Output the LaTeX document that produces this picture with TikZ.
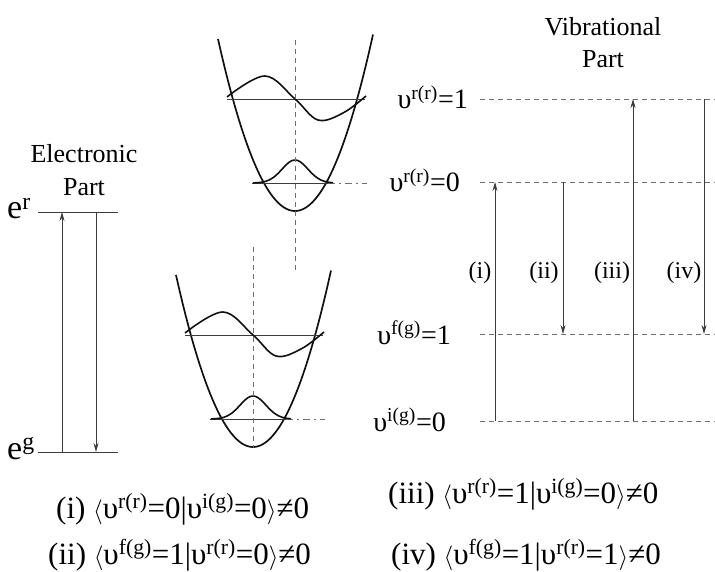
\documentclass[tikz,border=0pt]{standalone}
\usepackage{fontspec}
\setmainfont{Liberation Serif}
\usetikzlibrary{arrows.meta}
\definecolor{ink}{HTML}{111111}
\definecolor{inkgray}{HTML}{3C3C3C}
\definecolor{dashgray}{HTML}{707070}
\newcommand{\sps}[1]{\textsuperscript{#1}}
\newcommand{\lvfont}{\fontsize{28}{32}\selectfont}
\newcommand{\eqfont}{\fontsize{31}{35}\selectfont}
\tikzset{
  well/.style={draw=ink,line width=1.7pt},
  wave/.style={draw=ink,line width=1.6pt},
  level/.style={draw=inkgray,line width=0.7pt},
  vlevel/.style={draw=dashgray,line width=0.7pt,dash pattern=on 5pt off 4pt},
  axisline/.style={draw=dashgray,line width=0.7pt,dash pattern=on 5pt off 4pt},
  tailline/.style={draw=dashgray,line width=0.7pt,dash pattern=on 7pt off 4pt on 2pt off 4pt},
  uparr/.style={-{Stealth[length=9pt,width=5pt]},draw=inkgray,line width=0.8pt},
  title/.style={font=\fontsize{26}{30}\selectfont,anchor=base,inner sep=0pt},
  lvlabel/.style={font=\lvfont,anchor=base east,inner sep=0pt},
  roman/.style={font=\fontsize{24}{28}\selectfont,inner sep=0pt},
  elabel/.style={font=\fontsize{34}{36}\selectfont,anchor=base west,inner sep=0pt},
  eqn/.style={font=\eqfont,anchor=base west,inner sep=0pt}
}
\begin{document}
\begin{tikzpicture}[x=1pt,y=-1pt]
  \path[use as bounding box] (0,0) rectangle (715,572);

  % electronic part
  \node[title] (eltitle) at (84,163) {Electronic};
  \node[title] (elpart) at (84,196) {Part};
  \coordinate (er) at (38,212);
  \coordinate (eg) at (38,452);
  \coordinate (erend) at (118,212);
  \coordinate (egend) at (118,452);
  \coordinate (xup) at (62,0);
  \coordinate (xdn) at (96,0);
  \node[elabel] (elr) at (7,219) {e\sps{r}};
  \node[elabel] (elg) at (7,459) {e\sps{g}};
  \draw[level] (er) -- (erend);
  \draw[level] (eg) -- (egend);
  \draw[uparr] (xup |- eg) -- (xup |- er);
  \draw[uparr] (xdn |- er) -- (xdn |- eg);

  % the two wells
  \foreach \cx/\cy in {295/211,253/447}{
    \begin{scope}[shift={(\cx,\cy)}]
      \draw[well] plot[domain=-77:78,samples=60,smooth] (\x,{-0.029*\x*\x});
      \draw[level] (-68,-112) -- (70,-112);
      \draw[wave] plot[smooth,tension=0.6] coordinates
        {(-68,-114) (-30,-135) (0,-112) (23,-91) (48,-98) (71,-115)};
      \draw[level] (-43,-28) -- (33,-28);
      \draw[tailline] (33,-28) -- (72,-28);
      \draw[wave] plot[domain=-42:38,samples=40,smooth]
        (\x,{-28-23*exp(-\x*\x/330)});
    \end{scope}
  }
  \draw[axisline] (295,40) -- (295,273);
  \draw[axisline] (253,247) -- (253,448);

  % vibrational part
  \node[title] (vbtitle) at (603,36) {Vibrational};
  \node[title] (vbpart) at (603,68) {Part};
  \coordinate (lvR1) at (480,99);
  \coordinate (lvR0) at (480,182);
  \coordinate (lvF1) at (480,334);
  \coordinate (lvI0) at (480,421);
  \coordinate (rim) at (715,0);
  \foreach \lv in {lvR1,lvR0,lvF1,lvI0}
    \draw[vlevel] (\lv) -- (\lv -| rim);
  \node[lvlabel] (labR1) at (468,109) {υ\sps{r(r)}=1};
  \node[lvlabel] (labR0) at (460,192) {υ\sps{r(r)}=0};
  \node[lvlabel] (labF1) at (451,344) {υ\sps{f(g)}=1};
  \node[lvlabel] (labI0) at (446,431) {υ\sps{i(g)}=0};
  \coordinate (xi) at (495,0);
  \coordinate (xii) at (563,0);
  \coordinate (xiii) at (633,0);
  \coordinate (xiv) at (704,0);
  \draw[uparr] (xi |- lvI0) -- (xi |- lvR0);
  \draw[uparr] (xii |- lvR0) -- (xii |- lvF1);
  \draw[uparr] (xiii |- lvI0) -- (xiii |- lvR1);
  \draw[uparr] (xiv |- lvR1) -- (xiv |- lvF1);
  \node[roman] (ri) at (480,273) {(i)};
  \node[roman] (rii) at (544,273) {(ii)};
  \node[roman] (riii) at (612,273) {(iii)};
  \node[roman] (riv) at (684,273) {(iv)};

  % overlap integrals
  \node[eqn] (eqi) at (56,518)
    {(i) \ensuremath{\langle}υ\sps{r(r)}=0|υ\sps{i(g)}=0\ensuremath{\rangle}≠0};
  \node[eqn] (eqii) at (48,564)
    {(ii) \ensuremath{\langle}υ\sps{f(g)}=1|υ\sps{r(r)}=0\ensuremath{\rangle}≠0};
  \node[eqn] (eqiii) at (388,503)
    {(iii) \ensuremath{\langle}υ\sps{r(r)}=1|υ\sps{i(g)}=0\ensuremath{\rangle}≠0};
  \node[eqn] (eqiv) at (391,564)
    {(iv) \ensuremath{\langle}υ\sps{f(g)}=1|υ\sps{r(r)}=1\ensuremath{\rangle}≠0};
\end{tikzpicture}
\end{document}
